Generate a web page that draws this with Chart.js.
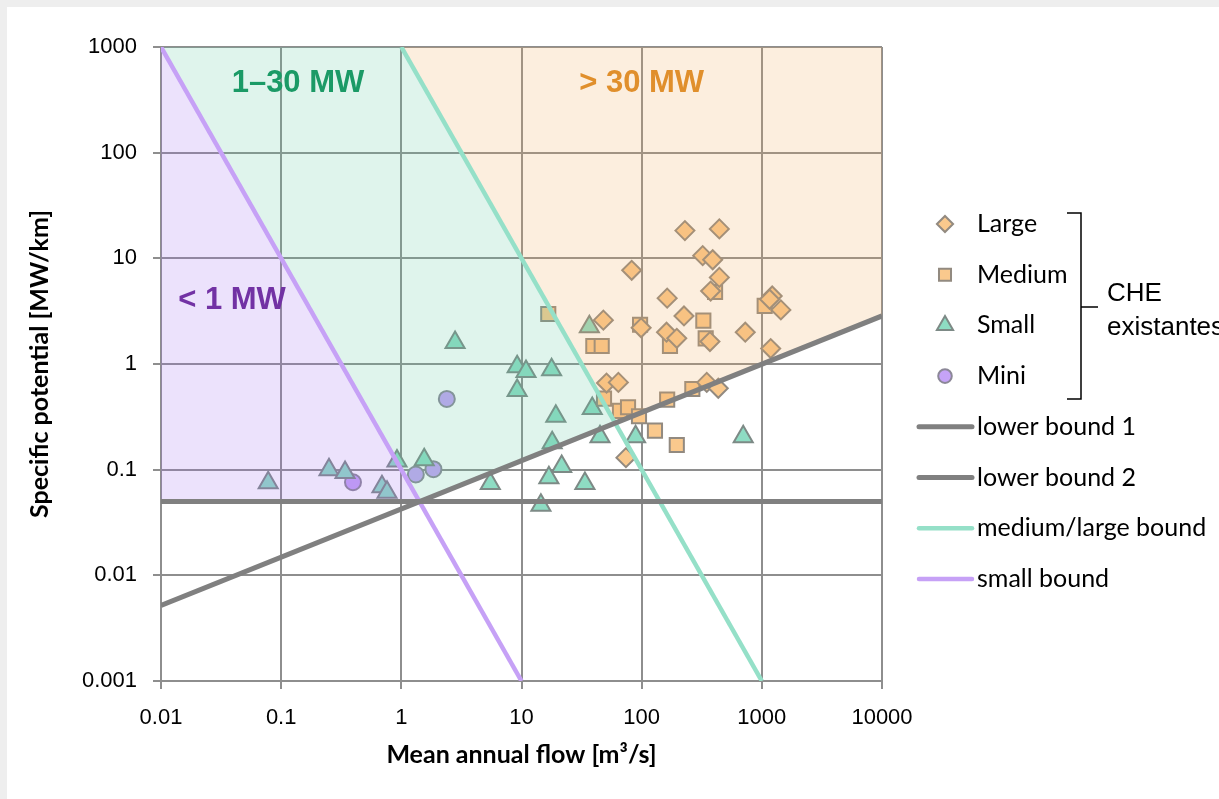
<!DOCTYPE html>
<html>
<head>
<meta charset="utf-8">
<title>Specific potential vs mean annual flow</title>
<script src="https://cdn.jsdelivr.net/npm/chart.js@4.4.1/dist/chart.umd.min.js"></script>
<style>
  html, body { margin: 0; padding: 0; background: #eeeeee; }
  #wrap { position: absolute; left: 7px; top: 7px; width: 1212px; height: 792px; background: #fff; overflow: hidden; }
  canvas { display: block; }
</style>
</head>
<body>
<div id="wrap"><canvas id="chart" width="1212" height="792"></canvas></div>
<script>
// axes
const xTicks = [0.01, 0.1, 1, 10, 100, 1000, 10000];
const xTickLabels = ['0.01', '0.1', '1', '10', '100', '1000', '10000'];
const yTicks = [0.001, 0.01, 0.1, 1, 10, 100, 1000];
const yTickLabels = ['0.001', '0.01', '0.1', '1', '10', '100', '1000'];

// CHE existantes : [mean annual flow m3/s, specific potential MW/km]
const large = [
  [229, 18.3], [443, 19], [322, 10.6], [390, 9.7], [82.6, 7.7], [443, 6.6],
  [375, 4.9], [1220, 4.4], [1160, 4.1], [1440, 3.25], [163, 4.2], [48, 2.6],
  [225, 2.85], [99, 2.2], [161, 2.0], [196, 1.75], [370, 1.63], [728, 2.0],
  [1185, 1.4], [51, 0.66], [64, 0.67], [348, 0.67], [434, 0.59], [74, 0.13]
];
const medium = [
  [408, 4.8], [1056, 3.55], [97, 2.35], [326, 2.57], [341, 1.75], [172, 1.48],
  [39.6, 1.48], [46.5, 1.48], [48.6, 0.47], [66, 0.36], [77, 0.39], [95, 0.32],
  [163, 0.46], [264, 0.58], [129, 0.234], [196, 0.171], [16.7, 2.97]
];
const small = [
  [2.8, 1.6], [9.2, 0.94], [10.9, 0.85], [17.8, 0.88], [9.2, 0.56], [36.7, 2.25],
  [38.8, 0.38], [19.3, 0.32], [45, 0.205], [18, 0.18], [21.6, 0.107], [16.9, 0.084],
  [5.5, 0.074], [33.7, 0.074], [14.5, 0.046], [89, 0.205], [700, 0.205],
  [0.078, 0.075], [0.25, 0.10], [0.34, 0.094], [0.69, 0.069], [0.76, 0.061],
  [0.92, 0.121], [1.55, 0.124]
];
const mini = [[0.396, 0.076], [1.32, 0.090], [1.85, 0.101], [2.39, 0.467]];

// bounds, as two end points each
const lowerBound1 = [[0.01, 0.0052], [10000, 2.85]];
const lowerBound2 = [[0.01, 0.05], [10000, 0.05]];
const mediumLargeBound = [[1, 1000], [1000, 0.001]];
const smallBound = [[0.01, 1000], [10, 0.001]];

const toXY = arr => arr.map(p => ({x: p[0], y: p[1]}));

// crossing of two bounds (straight lines on log-log axes)
function crossing(a, b) {
  const L = p => [Math.log10(p[0]), Math.log10(p[1])];
  const [a1, a2, b1, b2] = [L(a[0]), L(a[1]), L(b[0]), L(b[1])];
  const ma = (a2[1] - a1[1]) / (a2[0] - a1[0]);
  const mb = (b2[1] - b1[1]) / (b2[0] - b1[0]);
  const lx = (b1[1] - a1[1] + ma * a1[0] - mb * b1[0]) / (ma - mb);
  const ly = a1[1] + ma * (lx - a1[0]);
  return [Math.pow(10, lx), Math.pow(10, ly)];
}

const xMin = xTicks[0], xMax = xTicks[xTicks.length - 1];
const yMax = yTicks[yTicks.length - 1];
const pML = crossing(mediumLargeBound, lowerBound1);
const pSL = crossing(smallBound, lowerBound1);
const pS2 = crossing(smallBound, lowerBound2);

const regionLess1 = [smallBound[0], pS2, [xMin, lowerBound2[0][1]]];
const region1to30 = [smallBound[0], mediumLargeBound[0], pML, pSL];
const regionOver30 = [mediumLargeBound[0], [xMax, yMax], lowerBound1[1], pML];

const markerBorder = '#928a80';

function pointSet(label, data, style, fill, radius, row) {
  return {
    label: label, data: toXY(data), order: 2, legendRow: row,
    pointStyle: style, pointRadius: radius, pointHoverRadius: radius,
    backgroundColor: fill, borderColor: style === 'triangle' ? '#7d8a86' : (style === 'circle' ? '#8c8898' : markerBorder),
    borderWidth: 2
  };
}
function lineSet(label, data, color, width, row) {
  return {
    label: label, data: toXY(data), order: 0, legendRow: row, showLine: true,
    borderColor: color, borderWidth: width, pointRadius: 0, fill: false
  };
}
function areaSet(data, color) {
  return {
    label: '', data: toXY(data), order: 1, showLine: true, fill: 'shape',
    backgroundColor: color, borderWidth: 0, pointRadius: 0
  };
}

const sideLegend = {
  id: 'sideLegend',
  afterDraw(chart, args, o) {
    const ctx = chart.ctx;
    ctx.save();
    ctx.textBaseline = 'middle';
    ctx.textAlign = 'left';
    chart.data.datasets.forEach(ds => {
      if (ds.legendRow === undefined) return;
      const y = o.top + ds.legendRow * o.rowGap;
      if (ds.showLine) {
        ctx.strokeStyle = ds.borderColor;
        ctx.lineWidth = ds.borderWidth;
        ctx.lineCap = 'round';
        ctx.beginPath();
        ctx.moveTo(o.lineX0, y);
        ctx.lineTo(o.lineX1, y);
        ctx.stroke();
      } else {
        ctx.fillStyle = ds.backgroundColor;
        ctx.strokeStyle = ds.borderColor;
        ctx.lineWidth = 2;
        Chart.helpers.drawPoint(ctx, {pointStyle: ds.pointStyle, radius: ds.pointRadius * 0.85, rotation: 0, borderWidth: 2}, o.markerX, y);
      }
      ctx.fillStyle = '#000';
      ctx.font = o.font;
      ctx.fillText(ds.label, o.textX, y);
    });
    // bracket grouping the existing plants
    const b = o.bracket;
    ctx.strokeStyle = '#000';
    ctx.lineWidth = 1.5;
    ctx.lineCap = 'butt';
    ctx.beginPath();
    ctx.moveTo(b.x0, b.top); ctx.lineTo(b.x, b.top); ctx.lineTo(b.x, b.bottom); ctx.lineTo(b.x0, b.bottom);
    ctx.moveTo(b.x, b.mid); ctx.lineTo(b.x1, b.mid);
    ctx.stroke();
    ctx.font = o.groupFont;
    ctx.fillStyle = '#000';
    o.groupText.forEach((t, i) => ctx.fillText(t, b.textX, b.mid - 13 + i * 34));
    ctx.restore();
  }
};

const regionLabels = {
  id: 'regionLabels',
  afterDatasetsDraw(chart, args, o) {
    const ctx = chart.ctx;
    const xs = chart.scales.x, ys = chart.scales.y;
    ctx.save();
    ctx.font = o.font;
    ctx.textAlign = 'center';
    ctx.textBaseline = 'middle';
    o.items.forEach(it => {
      ctx.fillStyle = it.color;
      ctx.fillText(it.text, xs.getPixelForValue(it.x), ys.getPixelForValue(it.y));
    });
    ctx.restore();
  }
};

const gridColor = '#8e8e8e';

new Chart(document.getElementById('chart'), {
  type: 'scatter',
  data: {
    datasets: [
      pointSet('Large', large, 'rectRot', '#fac98d', 9.5, 0),
      pointSet('Medium', medium, 'rect', '#fac98d', 10, 1),
      pointSet('Small', small, 'triangle', '#8edcc3', 11, 2),
      pointSet('Mini', mini, 'circle', '#c5a3f7', 8, 3),
      areaSet(regionLess1, 'rgba(160, 110, 240, 0.2)'),
      areaSet(region1to30, 'rgba(95, 200, 160, 0.2)'),
      areaSet(regionOver30, 'rgba(240, 170, 90, 0.2)'),
      lineSet('lower bound 1', lowerBound1, '#808080', 5, 4),
      lineSet('lower bound 2', lowerBound2, '#808080', 5, 5),
      lineSet('medium/large bound', mediumLargeBound, '#95e0c8', 4.5, 6),
      lineSet('small bound', smallBound, '#c6a1f6', 4.5, 7)
    ]
  },
  options: {
    responsive: false,
    animation: false,
    devicePixelRatio: 1,
    layout: { padding: { top: 40, right: 337, left: 0, bottom: 0 } },
    plugins: {
      legend: { display: false },
      tooltip: { enabled: false },
      sideLegend: {
        top: 217, rowGap: 50.7, markerX: 938, textX: 970, lineX0: 912, lineX1: 965,
        font: '25px Lato',
        groupFont: '26px "Liberation Sans"',
        groupText: ['CHE', 'existantes'],
        bracket: { x0: 1060, x: 1074, x1: 1091, top: 206, bottom: 392, mid: 300, textX: 1100 }
      },
      regionLabels: {
        font: 'bold 31px "Liberation Sans"',
        items: [
          { text: '1–30 MW', x: 0.138, y: 450, color: '#1b9a66' },
          { text: '> 30 MW', x: 100, y: 450, color: '#e08f2c' },
          { text: '< 1 MW', x: 0.039, y: 4.0, color: '#7232a4' }
        ]
      }
    },
    scales: {
      x: {
        type: 'logarithmic', min: xMin, max: xMax,
        afterBuildTicks: s => { s.ticks = xTicks.map(v => ({value: v})); },
        afterFit: s => { s.height = 118; },
        ticks: {
          autoSkip: false, maxRotation: 0, padding: 16, color: '#000',
          font: { family: '"Liberation Sans"', size: 22 },
          callback: (v, i) => xTickLabels[i]
        },
        grid: { color: gridColor, lineWidth: 2, tickLength: 8 },
        border: { color: gridColor, width: 2 },
        title: {
          display: true, text: 'Mean annual flow [m³/s]', color: '#000',
          font: { family: 'Lato', weight: 'bold', size: 25 }, padding: { top: 0, bottom: 29 }
        }
      },
      y: {
        type: 'logarithmic', min: yTicks[0], max: yMax,
        afterBuildTicks: s => { s.ticks = yTicks.map(v => ({value: v})); },
        afterFit: s => { s.width = 154; },
        ticks: {
          autoSkip: false, padding: 16, color: '#000',
          font: { family: '"Liberation Sans"', size: 22 },
          callback: (v, i) => yTickLabels[i]
        },
        grid: { color: gridColor, lineWidth: 2, tickLength: 8 },
        border: { color: gridColor, width: 2 },
        title: {
          display: true, text: 'Specific potential [MW/km]', color: '#000',
          font: { family: 'Lato', weight: 'bold', size: 25 }, padding: { top: 18, bottom: 0 }
        }
      }
    }
  },
  plugins: [sideLegend, regionLabels]
});
</script>
</body>
</html>
